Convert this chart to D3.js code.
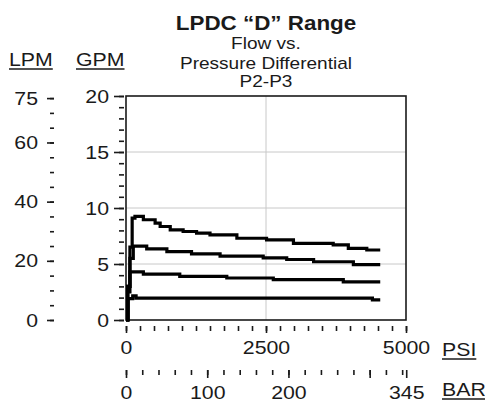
<!DOCTYPE html>
<html>
<head>
<meta charset="utf-8">
<script src="https://cdn.jsdelivr.net/npm/d3@7"></script>
<style>
  html, body { margin: 0; padding: 0; background: #fff; }
  svg { display: block; font-family: "Liberation Sans", Arial, sans-serif; }
</style>
</head>
<body>
<svg id="chart" width="485" height="408"></svg>
<script>
// ---- data (GPM vs PSI) ----
const titleLines = ["LPDC \u201CD\u201D Range", "Flow vs.", "Pressure Differential", "P2-P3"];
const psiMajorTicks = [0, 2500, 5000];
const barMajorTicks = [0, 100, 200, 345];
const barUnlabeledMajor = [300];
const gpmMajorTicks = [0, 5, 10, 15, 20];
const lpmMajorTicks = [0, 20, 40, 60, 75];
const gridGpm = [5, 10, 15];
const gridPsi = [2500];

const s1Psi = [0, 30, 70, 110, 160, 310, 520, 610, 790, 1020, 1260, 1500, 1980, 2510, 2990, 3700, 3970, 4300, 4540];
const s1Gpm = [0, 3, 6.5, 9.1, 9.25, 8.95, 8.65, 8.35, 8.05, 7.9, 7.75, 7.6, 7.3, 7.15, 6.85, 6.7, 6.4, 6.25, 6.25];
const s2Psi = [0, 30, 70, 130, 370, 730, 1170, 1680, 2450, 2870, 3350, 4060, 4540];
const s2Gpm = [0, 3, 5.5, 6.6, 6.35, 6.1, 5.9, 5.7, 5.55, 5.4, 5.2, 4.95, 4.95];
const s3Psi = [0, 30, 70, 310, 960, 1800, 2630, 3880, 4540];
const s3Gpm = [0, 2.5, 4.3, 4.1, 3.9, 3.75, 3.6, 3.4, 3.4];
const s4Psi = [0, 40, 120, 180, 4400, 4540];
const s4Gpm = [0, 1.9, 2.15, 1.95, 1.8, 1.8];

const PSI_PER_BAR = 14.5038;
const LPM_PER_GPM = 3.78541;

// ---- layout ----
const svg = d3.select("#chart");
const L = 126, R = 406, T = 96, B = 320;
const x = d3.scaleLinear().domain([0, 5000]).range([L, R]);
const xBar = d3.scaleLinear().domain([0, 5000 / PSI_PER_BAR]).range([L, R]);
const y = d3.scaleLinear().domain([0, 20]).range([B, T]);
const yL = d3.scaleLinear().domain([0, 20 * LPM_PER_GPM]).range([B, T]);
const ink = "#1a1a1a";
const AX_FS = "19px";

// grid
svg.append("g").selectAll("line").data(gridGpm).join("line")
  .attr("x1", L).attr("x2", R).attr("y1", d => y(d)).attr("y2", d => y(d))
  .attr("stroke", "#c8c8c8").attr("stroke-width", 1);
svg.append("g").selectAll("line").data(gridPsi).join("line")
  .attr("x1", d => x(d)).attr("x2", d => x(d)).attr("y1", T).attr("y2", B)
  .attr("stroke", "#c8c8c8").attr("stroke-width", 1);

// frame
svg.append("rect").attr("x", L).attr("y", T).attr("width", R - L).attr("height", B - T)
  .attr("fill", "none").attr("stroke", ink).attr("stroke-width", 1.6);

function styleAxis(g) {
  g.select(".domain").remove();
  g.selectAll(".tick line").attr("stroke", ink).attr("stroke-width", 1.6);
  g.selectAll(".tick text").attr("fill", ink).style("font-size", AX_FS).attr("class", "stretch");
}

// GPM axis
svg.append("g").attr("transform", `translate(${L - 2},0)`)
  .call(d3.axisLeft(y).tickValues(d3.range(0, 21, 1)).tickSize(5).tickFormat(""))
  .call(styleAxis);
svg.append("g").attr("transform", `translate(${L - 2},0)`)
  .call(d3.axisLeft(y).tickValues(gpmMajorTicks).tickSize(10).tickPadding(5).tickFormat(d3.format("d")))
  .call(styleAxis);

// LPM axis
svg.append("g").attr("transform", `translate(54,0)`)
  .call(d3.axisLeft(yL).tickValues(d3.range(0, 76, 5)).tickSize(4).tickFormat(""))
  .call(styleAxis);
svg.append("g").attr("transform", `translate(54,0)`)
  .call(d3.axisLeft(yL).tickValues(lpmMajorTicks).tickSize(7).tickPadding(9).tickFormat(d3.format("d")))
  .call(styleAxis);

// PSI axis
svg.append("g").attr("transform", `translate(0,${B + 6})`)
  .call(d3.axisBottom(x).tickValues(d3.range(0, 5001, 250)).tickSize(5).tickFormat(""))
  .call(styleAxis);
svg.append("g").attr("transform", `translate(0,${B + 6})`)
  .call(d3.axisBottom(x).tickValues(psiMajorTicks).tickSize(7).tickPadding(8).tickFormat(d3.format("d")))
  .call(styleAxis);

// BAR axis
svg.append("g").attr("transform", `translate(0,370)`)
  .call(d3.axisBottom(xBar).tickValues(d3.range(0, 341, 20)).tickSize(5).tickFormat(""))
  .call(styleAxis);
svg.append("g").attr("transform", `translate(0,370)`)
  .call(d3.axisBottom(xBar).tickValues(barUnlabeledMajor).tickSize(8).tickFormat(""))
  .call(styleAxis);
svg.append("g").attr("transform", `translate(0,370)`)
  .call(d3.axisBottom(xBar).tickValues(barMajorTicks).tickSize(8).tickPadding(8).tickFormat(d3.format("d")))
  .call(styleAxis);

// data lines
const series = [[s1Psi, s1Gpm], [s2Psi, s2Gpm], [s3Psi, s3Gpm], [s4Psi, s4Gpm]];
const line = d3.line().x(d => x(d[0])).y(d => y(d[1])).curve(d3.curveStepAfter);
svg.append("g").selectAll("path").data(series).join("path")
  .attr("d", s => line(s[0].map((p, i) => [p, s[1][i]])))
  .attr("fill", "none").attr("stroke", "#000").attr("stroke-width", 3.2)
  .attr("stroke-linejoin", "miter");

// titles
const titleY = [30, 49, 69, 87];
svg.append("g").selectAll("text").data(titleLines).join("text")
  .attr("x", (L + R) / 2).attr("y", (d, i) => titleY[i])
  .attr("text-anchor", "middle").attr("fill", ink)
  .style("font-size", (d, i) => i === 0 ? "20px" : "17px")
  .style("font-weight", (d, i) => i === 0 ? "bold" : "normal")
  .attr("class", "stretch")
  .text(d => d);

// unit labels
const units = [
  { t: "LPM", x: 9, y: 66 },
  { t: "GPM", x: 76, y: 66 },
  { t: "PSI", x: 442, y: 356 },
  { t: "BAR", x: 442, y: 396 }
];
const unitText = svg.append("g").selectAll("text").data(units).join("text")
  .attr("x", d => d.x).attr("y", d => d.y).attr("fill", ink)
  .style("font-size", AX_FS).attr("class", "stretch").text(d => d.t);

// horizontal stretch of the text to match the reference's wide glyphs
svg.selectAll("text.stretch").each(function () {
  const w = this.getComputedTextLength();
  this.setAttribute("textLength", (w * 1.12).toFixed(1));
  this.setAttribute("lengthAdjust", "spacingAndGlyphs");
});

// underlines
unitText.each(function (d) {
  const bb = this.getBBox();
  svg.append("line").attr("x1", bb.x).attr("x2", bb.x + bb.width)
    .attr("y1", d.y + 3).attr("y2", d.y + 3).attr("stroke", ink).attr("stroke-width", 1.5);
});
</script>
</body>
</html>
